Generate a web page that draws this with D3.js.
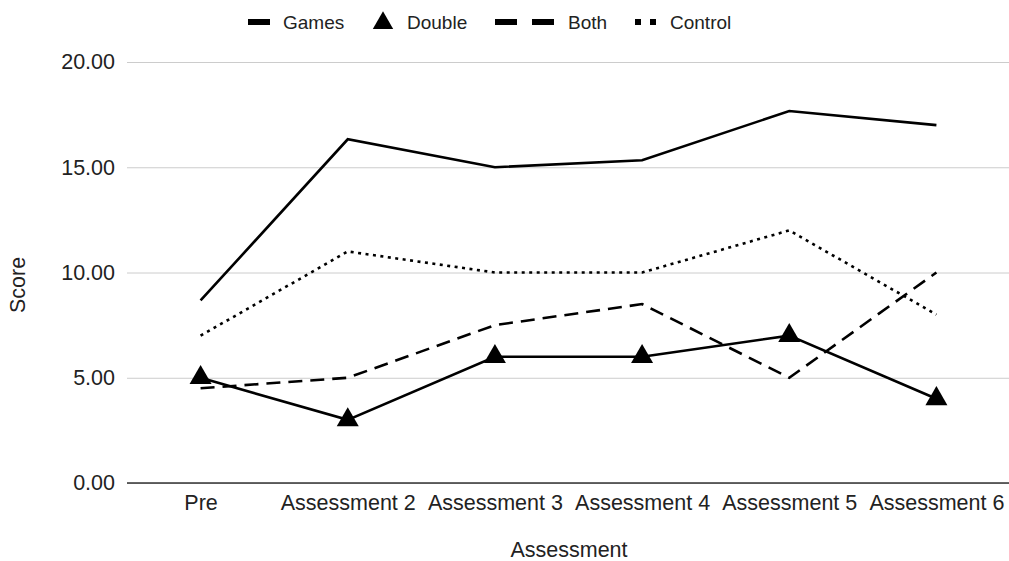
<!DOCTYPE html>
<html>
<head>
<meta charset="utf-8">
<script src="https://cdn.jsdelivr.net/npm/d3@7"></script>
<style>
  body { margin: 0; background: #fff; }
  text { font-family: "Liberation Sans", Arial, sans-serif; fill: #222; }
</style>
</head>
<body>
<div id="chart"></div>
<script>
// data
const assessments = ["Pre", "Assessment 2", "Assessment 3", "Assessment 4", "Assessment 5", "Assessment 6"];
const games   = [8.67, 16.33, 15.0, 15.33, 17.67, 17.0];
const double_ = [5, 3, 6, 6, 7, 4];
const both    = [4.5, 5, 7.5, 8.5, 5, 10];
const control = [7, 11, 10, 10, 12, 8];
const yTicks  = [0, 5, 10, 15, 20];

const series = [
  { name: "Games",   values: games,   dash: null },
  { name: "Double",  values: double_, dash: null, marker: true },
  { name: "Both",    values: both,    dash: "14,8" },
  { name: "Control", values: control, dash: "3,4.5" }
];

const width = 1009, height = 561;
const axisFont = "21.5px";
const svg = d3.select("#chart").append("svg")
  .attr("width", width).attr("height", height);

const x = d3.scalePoint().domain(assessments).range([127, 1010]).padding(0.5);
const y = d3.scaleLinear().domain([0, 20]).range([483, 62]);

// gridlines + y labels
const yAxis = svg.append("g").attr("transform", "translate(127,0)")
  .call(d3.axisLeft(y).tickValues(yTicks).tickFormat(d3.format(".2f"))
    .tickSize(-(1009 - 127)).tickPadding(12));
yAxis.select(".domain").remove();
yAxis.selectAll(".tick line").attr("stroke", "#ccc").attr("stroke-width", 1);
yAxis.selectAll(".tick text").style("font-size", axisFont).attr("fill", "#222");

// x axis
const xAxis = svg.append("g").attr("transform", "translate(0,483)")
  .call(d3.axisBottom(x).tickSize(0).tickPadding(12));
xAxis.select(".domain").remove();
xAxis.selectAll(".tick text").style("font-size", axisFont).attr("fill", "#222");
svg.append("line")
  .attr("x1", 127).attr("x2", 1009).attr("y1", y(0)).attr("y2", y(0))
  .attr("stroke", "#333").attr("stroke-width", 1.5);

const line = d3.line()
  .x((d, i) => x(assessments[i]))
  .y(d => y(d));

series.forEach(s => {
  svg.append("path")
    .datum(s.values)
    .attr("d", line)
    .attr("fill", "none")
    .attr("stroke", "#000")
    .attr("stroke-width", 2.6)
    .attr("stroke-dasharray", s.dash);
});

const tri = d3.symbol().type(d3.symbolTriangle).size(210);
svg.append("g").selectAll("path")
  .data(double_)
  .join("path")
  .attr("d", tri)
  .attr("transform", (d, i) => `translate(${x(assessments[i])},${y(d)})`)
  .attr("fill", "#000");

// axis titles
svg.append("text").attr("x", 569).attr("y", 557).attr("text-anchor", "middle")
  .style("font-size", axisFont).text("Assessment");
svg.append("text").attr("transform", "translate(25,285) rotate(-90)")
  .attr("text-anchor", "middle").style("font-size", axisFont).text("Score");

// legend
const lg = svg.append("g");
lg.append("rect").attr("x", 248).attr("y", 19).attr("width", 22).attr("height", 6);
lg.append("text").attr("x", 283).attr("y", 29).style("font-size", "19px").text("Games");
lg.append("path").attr("d", d3.symbol().type(d3.symbolTriangle).size(180))
  .attr("transform", "translate(383,23)");
lg.append("text").attr("x", 407).attr("y", 29).style("font-size", "19px").text("Double");
lg.append("rect").attr("x", 495).attr("y", 19).attr("width", 22).attr("height", 6);
lg.append("rect").attr("x", 532).attr("y", 19).attr("width", 22).attr("height", 6);
lg.append("text").attr("x", 568).attr("y", 29).style("font-size", "19px").text("Both");
lg.append("rect").attr("x", 635).attr("y", 19).attr("width", 6).attr("height", 6);
lg.append("rect").attr("x", 650).attr("y", 19).attr("width", 6).attr("height", 6);
lg.append("text").attr("x", 670).attr("y", 29).style("font-size", "19px").text("Control");
</script>
</body>
</html>
